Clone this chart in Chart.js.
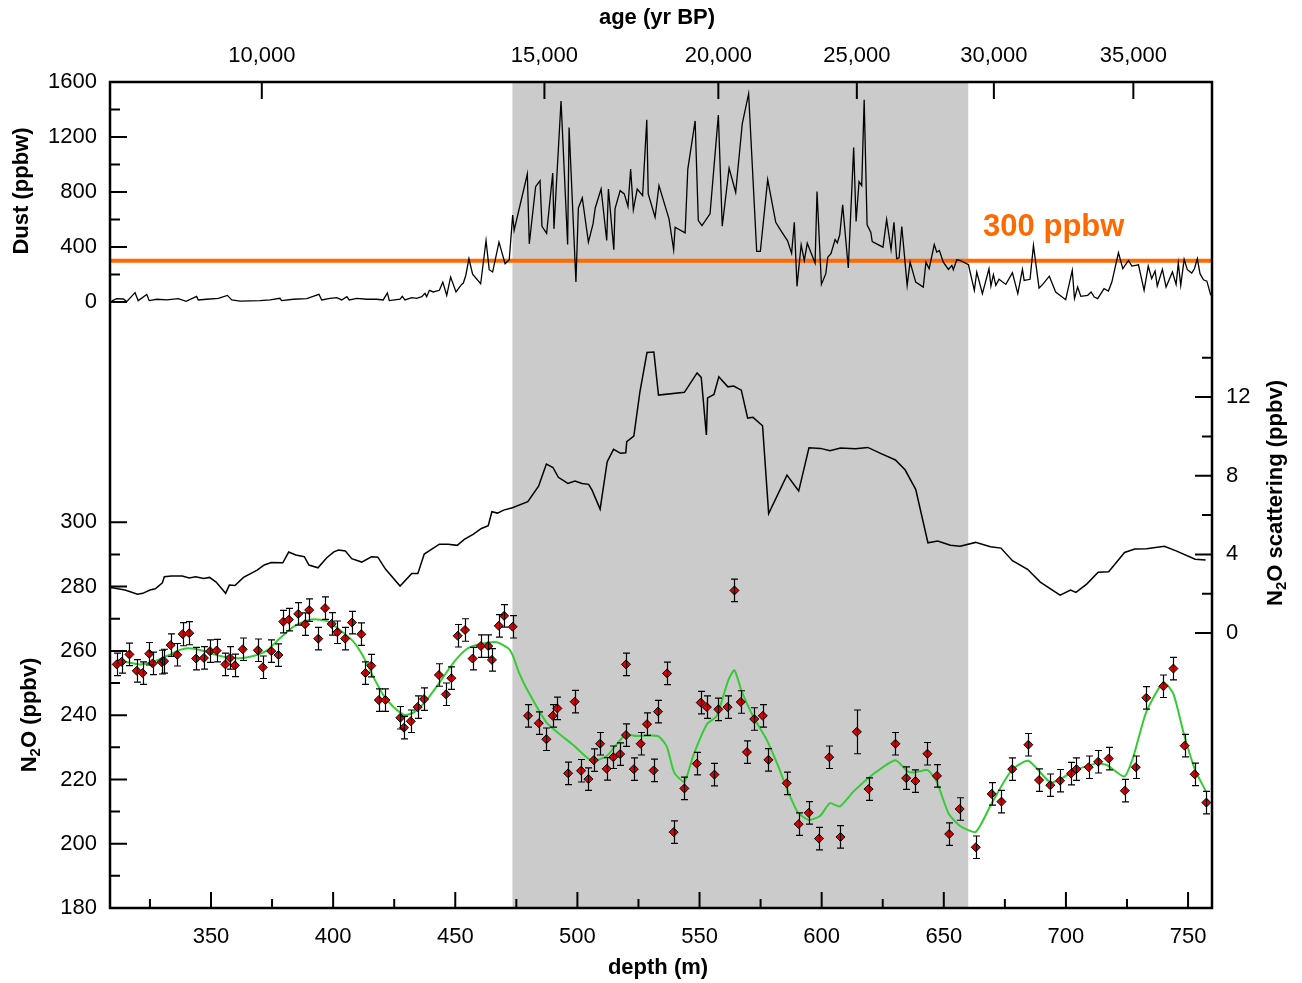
<!DOCTYPE html>
<html>
<head>
<meta charset="utf-8">
<script src="https://cdn.jsdelivr.net/npm/chart.js@4.4.1/dist/chart.umd.min.js"></script>
<style>
  html, body { margin: 0; padding: 0; background: #fff; }
  #wrap { width: 1302px; height: 983px; }
</style>
</head>
<body>
<div id="wrap"><canvas id="chart" width="1302" height="983"></canvas></div>
<script>
// dust record (depth m, ppbw)
const dustDepth = [309.3,311.4,314.1,315.5,318.9,320.2,323.7,324.7,327.8,331.9,336.6,339.8,344.1,344.8,348.2,353.0,356.7,358.5,361.9,370.1,374.2,378.2,378.9,383.7,389.2,394.2,395.3,398.7,401.5,403.5,405.6,406.6,409.7,413.7,417.8,420.5,422.2,423.0,427.4,428.3,429.4,432.2,434.2,436.3,437.6,438.3,439.4,441.0,443.5,444.9,446.5,448.1,450.3,452.6,453.3,454.3,455.6,457.1,460.4,462.6,463.9,465.3,467.9,470.4,472.1,473.5,474.1,479.5,480.3,482.9,484.7,485.5,487.4,489.9,490.4,493.3,496.0,496.6,499.4,500.4,502.0,504.5,506.4,507.3,509.7,512.0,512.7,514.9,515.4,517.5,519.2,520.7,521.8,522.9,524.5,526.7,528.4,529.0,531.8,533.4,537.5,539.4,540.0,544.1,545.2,548.2,549.5,551.0,554.3,557.7,559.3,562.1,564.8,567.5,570.1,573.4,574.9,577.9,581.2,583.7,586.0,587.7,588.8,589.9,591.6,592.9,594.1,597.3,598.1,599.9,601.7,602.5,603.8,605.5,606.4,607.4,608.6,610.9,613.1,614.1,615.3,616.4,617.4,618.6,620.1,620.7,625.1,626.6,628.4,629.6,630.7,631.7,632.8,635.0,636.2,638.5,641.6,642.7,644.0,646.1,647.1,648.2,649.8,651.9,653.3,653.9,655.3,656.7,660.1,662.5,663.5,665.8,668.5,669.3,670.3,671.3,672.6,675.4,678.1,680.3,682.2,682.9,685.3,686.7,689.0,690.5,693.2,695.8,699.9,702.6,703.5,704.8,706.1,708.9,710.3,711.6,713.0,715.6,717.4,718.8,721.5,723.3,725.6,727.0,729.7,732.0,733.7,735.1,736.5,737.4,739.5,741.0,743.6,745.1,746.0,747.0,748.4,749.7,751.5,752.6,753.8,754.9,756.3,757.7,759.3];
const dustVal = [7,25,22,3,68,10,54,10,20,15,25,5,41,15,20,27,48,15,7,10,15,27,10,20,25,56,15,27,32,15,39,15,27,20,20,15,66,10,20,41,15,32,27,39,63,39,85,73,85,145,49,181,73,128,138,193,315,203,133,447,235,218,435,278,307,633,520,931,423,839,882,551,500,938,532,1462,418,1269,145,684,757,435,568,684,822,447,822,380,677,810,786,694,967,670,822,774,1325,786,616,846,605,380,544,503,967,1317,592,556,641,1359,551,974,798,1298,1515,368,368,890,580,508,447,355,580,114,416,302,428,283,803,128,206,326,351,455,430,489,706,247,1124,585,875,846,1470,561,508,440,399,600,382,580,315,322,549,121,290,145,109,290,242,418,363,375,290,237,266,235,307,302,271,85,218,61,242,116,199,121,165,128,213,61,237,157,165,411,101,128,188,73,17,230,25,109,41,49,73,36,25,97,80,145,358,242,302,261,271,85,261,170,225,116,237,109,218,128,283,121,310,235,211,242,315,206,162,152,49];

// N2O scattering (ppbv)
const scatDepth = [308.9,314.8,319.9,322.1,325.0,327.2,330.1,330.9,333.8,338.2,341.1,343.7,347.0,349.4,352.1,356.0,357.5,359.8,363.3,368.9,371.8,374.7,379.4,381.8,384.7,388.2,390.1,393.8,397.4,400.3,402.2,405.0,407.6,411.7,415.7,418.3,421.5,427.4,432.2,434.7,437.3,443.5,447.1,450.8,453.7,457.3,460.7,463.5,465.0,467.3,469.8,473.4,479.7,484.1,487.3,490.0,492.2,496.1,499.0,501.9,504.6,506.0,509.3,512.2,514.8,517.7,519.8,520.2,523.1,525.6,528.5,531.3,533.2,543.8,549.0,550.7,552.8,553.3,555.9,557.9,561.6,564.0,567.1,569.7,571.9,575.8,578.3,585.8,590.6,594.8,599.6,603.4,607.7,613.8,618.9,624.1,630.2,634.2,638.5,643.5,647.5,652.7,656.7,663.0,669.1,673.4,678.1,684.3,689.5,697.6,701.9,704.1,708.5,713.2,717.5,724.0,728.2,733.0,740.3,745.1,752.9,757.2];
const scatVal = [2.32,2.19,1.98,2.02,2.19,2.25,2.56,2.86,2.90,2.90,2.80,2.86,2.78,2.83,2.59,2.02,2.44,2.42,2.83,3.20,3.46,3.59,3.57,4.12,3.97,3.88,3.46,3.32,3.83,4.13,4.22,4.17,3.78,3.61,3.88,3.86,3.24,2.39,3.03,3.03,4.02,4.52,4.51,4.46,4.76,5.02,5.32,5.46,6.17,6.10,6.25,6.37,6.68,7.47,8.59,8.42,7.92,7.61,7.73,7.61,7.56,7.27,6.30,8.71,9.34,9.14,9.17,9.73,10.02,12.27,14.27,14.29,12.10,12.24,13.23,13.0,10.07,11.96,12.13,13.03,12.52,12.56,12.35,10.93,10.97,10.54,6.08,8.03,7.22,9.42,9.39,9.27,9.41,9.37,9.44,9.14,8.80,8.29,7.31,4.59,4.68,4.47,4.42,4.61,4.39,4.32,3.68,3.24,2.59,1.93,2.19,2.07,2.49,3.09,3.12,4.10,4.27,4.29,4.41,4.18,3.75,3.71];

// N2O measurements (ppbv) with 1-sigma errors
const n2oDepth = [311.4,313.4,316.6,319.6,322.0,324.7,326.1,329.8,330.8,333.5,336.2,338.4,341.1,343.9,347.1,349.6,352.3,355.9,357.8,359.8,363.0,369.2,371.2,374.7,377.6,379.6,381.9,385.7,388.5,390.2,393.9,396.7,399.4,401.7,404.9,407.7,411.5,413.2,415.6,418.7,421.4,427.5,429.0,431.8,434.6,437.2,443.3,446.2,448.4,451.0,454.0,457.1,460.5,463.5,465.0,467.8,470.0,473.5,479.8,484.2,487.3,489.9,491.8,496.2,498.9,501.5,504.5,506.7,509.3,512.0,514.7,517.5,519.9,519.9,523.1,525.9,528.5,531.2,533.0,536.7,539.4,543.8,548.9,550.5,553.0,556.1,557.7,561.5,564.3,566.9,569.4,572.4,575.9,578.2,585.7,590.6,594.7,598.9,603.1,607.7,614.4,619.2,630.2,634.6,638.4,643.3,647.2,652.2,656.5,663.1,669.6,673.6,678.0,684.6,689.0,693.6,697.6,702.1,704.3,709.3,713.2,717.5,724.1,728.6,732.9,739.9,744.0,748.6,752.7,757.5];
const n2oVal = [255.8,256.6,258.9,253.8,253.1,259.1,256.1,256.5,256.8,261.8,258.8,265.2,265.5,257.6,257.8,259.9,260.1,255.8,257.8,255.5,260.5,260.2,254.9,259.9,258.7,269.1,269.7,271.5,268.3,272.7,263.8,273.3,268.4,265.8,263.8,268.8,265.2,253.1,255.4,244.7,244.7,239.2,236.1,238.1,242.5,245.0,252.5,246.5,251.5,264.7,266.5,257.6,261.5,261.5,257.2,267.8,270.9,267.5,239.8,237.5,232.5,239.8,242.1,221.9,244.2,222.7,220.1,226.0,231.1,223.3,226.9,227.9,255.8,233.8,223.2,231.1,237.2,222.8,241.1,253.0,203.6,217.2,224.9,243.9,242.5,221.5,241.8,242.5,278.8,244.1,228.5,238.8,239.8,226.1,218.8,206.1,209.6,201.6,226.9,202.1,234.8,217.0,231.1,220.4,219.5,228.0,221.1,203.0,210.8,198.9,215.5,213.1,223.2,230.8,219.8,218.2,219.6,221.8,223.2,223.8,225.5,226.5,216.5,223.8,245.4,249.0,254.5,230.5,221.6,212.8];
const n2oErr = [3.5,3.5,3.5,3.5,3.5,3.5,3.5,3.7,3.7,3.5,3.5,3.6,3.6,3.5,3.5,3.5,3.5,3.5,3.5,3.5,3.5,3.5,3.5,3.5,3.5,3.5,3.5,3.5,3.5,3.5,3.5,3.5,3.5,3.5,3.5,3.5,3.5,3.5,3.5,3.5,3.5,3.5,3.5,3.5,3.5,3.5,3.5,3.5,3.5,3.5,3.5,3.5,3.5,3.5,3.5,3.5,3.5,3.5,3.5,3.5,3.5,3.5,3.5,3.5,3.5,3.5,3.5,3.5,3.5,3.5,3.5,3.5,3.5,3.5,3.5,3.5,3.5,3.5,3.5,3.5,3.5,3.5,3.5,3.5,3.5,3.5,3.5,3.5,3.5,3.5,3.5,3.5,3.5,3.5,3.5,3.5,3.5,3.5,3.5,3.5,6.8,3.5,3.5,3.5,3.5,3.5,3.5,3.5,3.5,3.5,3.5,3.5,3.5,3.5,3.5,3.5,3.5,3.5,3.5,3.5,3.5,3.5,3.5,3.5,3.5,3.5,3.5,3.5,3.5,3.5];

// smoothed N2O (green)
const fitDepth = [312.0,316.1,320.9,326.4,331.9,337.3,340.7,345.5,350.9,356.4,361.9,367.3,372.8,378.2,383.7,389.2,393.3,398.0,402.8,408.3,412.4,416.4,420.5,424.6,429.4,433.5,438.3,443.8,449.2,454.7,460.1,467.0,471.7,473.5,476.2,479.9,487.4,498.3,505.9,512.0,519.5,524.3,532.9,536.6,539.6,543.8,547.5,553.0,557.0,561.8,564.3,567.3,572.0,577.5,582.3,585.7,590.2,594.7,599.3,603.4,607.5,613.0,621.2,630.2,635.1,638.2,643.4,647.1,651.9,656.7,663.1,669.6,677.8,684.6,693.5,697.6,703.7,712.6,716.7,723.9,727.6,732.8,739.9,744.0,748.4,752.9,757.4];
const fitVal = [257.2,256.4,255.8,256.6,258.4,260.3,260.8,260.3,259.0,258.0,257.7,258.4,260.1,263.9,267.5,269.4,269.8,269.1,266.5,262.9,258.2,252.0,246.3,242.6,240.0,241.1,244.7,250.4,256.3,260.6,262.1,262.7,260.8,258.7,253.0,247.3,237.7,230.7,225.8,227.3,233.8,233.5,233.5,230.2,222.2,219.3,227.6,237.2,239.7,250.9,254.0,247.3,239.5,232.3,224.0,217.2,209.8,207.4,208.6,212.6,211.6,216.2,221.7,226.0,222.5,222.2,222.9,219.3,209.5,205.5,203.7,212.6,222.9,225.8,219.1,220.0,222.9,225.0,224.5,220.9,227.1,240.8,250.2,246.6,233.8,222.9,216.2];

// axes
const depthMin = 308.65, depthMax = 759.8;
const depthTicks = [325,350,375,400,425,450,475,500,525,550,575,600,625,650,675,700,725,750];
const ageDepth = [370.8,486.5,557.7,614.4,670.5,727.6];
const ageLabels = ['10,000','15,000','20,000','25,000','30,000','35,000'];
const dustTicks = [0,200,400,600,800,1000,1200,1400,1600];
const n2oTicks = [180,190,200,210,220,230,240,250,260,270,280,290,300];
const scatTicks = [0,2,4,6,8,10,12,14];
const shadeFrom = 473.4, shadeTo = 660.0;
const dustThreshold = 300;

const FONT = "'Liberation Sans', Arial, Helvetica, sans-serif";
const pts = (xs, ys) => xs.map((x, i) => ({ x: x, y: ys[i] }));

function drawRich(ctx, parts, cx, cy, rot) {
  // parts: [text, size, baselineShift]
  ctx.save();
  ctx.translate(cx, cy);
  ctx.rotate(rot);
  let total = 0;
  parts.forEach(p => { ctx.font = 'bold ' + p[1] + 'px ' + FONT; total += ctx.measureText(p[0]).width; });
  let x = -total / 2;
  ctx.textAlign = 'left';
  ctx.textBaseline = 'middle';
  ctx.fillStyle = '#000';
  parts.forEach(p => {
    ctx.font = 'bold ' + p[1] + 'px ' + FONT;
    ctx.fillText(p[0], x, p[2]);
    x += ctx.measureText(p[0]).width;
  });
  ctx.restore();
}

const decor = {
  id: 'decor',
  beforeDatasetsDraw(chart) {
    const { ctx, chartArea: a, scales } = chart;
    const x0 = scales.x.getPixelForValue(shadeFrom);
    const x1 = scales.x.getPixelForValue(shadeTo);
    ctx.save();
    ctx.fillStyle = '#cbcbcb';
    ctx.fillRect(x0, a.top, x1 - x0, a.bottom - a.top);
    ctx.restore();
  },
  afterDatasetsDraw(chart) {
    const { ctx, chartArea: a, scales } = chart;
    const xs = scales.x, yn = scales.yN2O;
    ctx.save();

    // error bars
    ctx.strokeStyle = '#000';
    ctx.lineWidth = 1.2;
    n2oDepth.forEach((d, i) => {
      const px = Math.round(xs.getPixelForValue(d)) + 0.5;
      const yt = yn.getPixelForValue(n2oVal[i] + n2oErr[i]);
      const yb = yn.getPixelForValue(n2oVal[i] - n2oErr[i]);
      ctx.beginPath();
      ctx.moveTo(px, yt); ctx.lineTo(px, yb);
      ctx.moveTo(px - 3.5, yt); ctx.lineTo(px + 3.5, yt);
      ctx.moveTo(px - 3.5, yb); ctx.lineTo(px + 3.5, yb);
      ctx.stroke();
    });

    // threshold label
    ctx.fillStyle = '#ff6a00';
    ctx.font = 'bold 31px ' + FONT;
    ctx.textAlign = 'left';
    ctx.textBaseline = 'alphabetic';
    ctx.fillText('300 ppbw', xs.getPixelForValue(666.1), scales.yDust.getPixelForValue(dustThreshold) - 25);

    // frame
    ctx.strokeStyle = '#000';
    ctx.lineWidth = 2.5;
    ctx.strokeRect(a.left, a.top, a.right - a.left, a.bottom - a.top);

    // inward ticks
    ctx.lineWidth = 2;
    ctx.beginPath();
    xs.ticks.forEach(t => {
      const p = xs.getPixelForValue(t.value), len = t.value % 50 === 0 ? 16 : 9;
      ctx.moveTo(p, a.bottom); ctx.lineTo(p, a.bottom - len);
    });
    scales.xTop.ticks.forEach(t => {
      const p = xs.getPixelForValue(t.value);
      ctx.moveTo(p, a.top); ctx.lineTo(p, a.top + 17);
    });
    dustTicks.forEach(v => {
      const p = scales.yDust.getPixelForValue(v), len = v % 400 === 0 ? 17 : 10;
      ctx.moveTo(a.left, p); ctx.lineTo(a.left + len, p);
    });
    n2oTicks.forEach(v => {
      const p = yn.getPixelForValue(v), len = v % 20 === 0 ? 17 : 10;
      ctx.moveTo(a.left, p); ctx.lineTo(a.left + len, p);
    });
    scatTicks.forEach(v => {
      const p = scales.yScat.getPixelForValue(v), len = v % 4 === 0 ? 17 : 10;
      ctx.moveTo(a.right, p); ctx.lineTo(a.right - len, p);
    });
    ctx.stroke();

    // N2O tick labels (this axis shares the left edge with the dust axis)
    ctx.fillStyle = '#000';
    ctx.font = '22px ' + FONT;
    ctx.textAlign = 'right';
    ctx.textBaseline = 'middle';
    n2oTicks.filter(v => v % 20 === 0).forEach(v => {
      ctx.fillText(String(v), a.left - 13, yn.getPixelForValue(v));
    });
    ctx.restore();
  },
  afterDraw(chart) {
    const ctx = chart.ctx;
    drawRich(ctx, [['age (yr BP)', 22, 0]], 657, 18, 0);
    drawRich(ctx, [['depth (m)', 22, 0]], 658, 968, 0);
    drawRich(ctx, [['Dust (ppbw)', 22, 0]], 22, 191, -Math.PI / 2);
    drawRich(ctx, [['N', 22, 0], ['2', 15, 6], ['O (ppbv)', 22, 0]], 30, 715, -Math.PI / 2);
    drawRich(ctx, [['N', 22, 0], ['2', 15, 6], ['O scattering (ppbv)', 22, 0]], 1276, 493, -Math.PI / 2);
  }
};

const tickFont = { family: FONT, size: 22 };
const fixedTicks = list => s => { s.ticks = list.map(v => ({ value: v })); };

new Chart(document.getElementById('chart').getContext('2d'), {
  type: 'scatter',
  data: {
    datasets: [
      {
        label: 'N2O',
        data: pts(n2oDepth, n2oVal),
        xAxisID: 'x', yAxisID: 'yN2O',
        showLine: false,
        pointStyle: 'rectRot',
        pointRadius: 4.5,
        backgroundColor: '#e00000',
        borderColor: '#000',
        borderWidth: 1,
      },
      {
        label: 'N2O smooth',
        data: pts(fitDepth, fitVal),
        xAxisID: 'x', yAxisID: 'yN2O',
        showLine: true,
        pointRadius: 0,
        borderColor: '#33cc33',
        borderWidth: 2,
        tension: 0.2,
      },
      {
        label: 'N2O scattering',
        data: pts(scatDepth, scatVal),
        xAxisID: 'x', yAxisID: 'yScat',
        showLine: true,
        pointRadius: 0,
        borderColor: '#000',
        borderWidth: 1.5,
      },
      {
        label: 'Dust',
        data: pts(dustDepth, dustVal),
        xAxisID: 'x', yAxisID: 'yDust',
        showLine: true,
        pointRadius: 0,
        borderColor: '#000',
        borderWidth: 1.3,
      },
      {
        label: '300 ppbw',
        data: [{ x: depthMin, y: dustThreshold }, { x: depthMax, y: dustThreshold }],
        xAxisID: 'x', yAxisID: 'yDust',
        showLine: true,
        pointRadius: 0,
        borderColor: '#ff6a00',
        borderWidth: 4,
      },
    ],
  },
  options: {
    responsive: false,
    animation: false,
    devicePixelRatio: 1,
    layout: { padding: 0 },
    plugins: { legend: { display: false }, tooltip: { enabled: false } },
    scales: {
      x: {
        type: 'linear', position: 'bottom',
        min: depthMin, max: depthMax,
        grid: { display: false, drawTicks: false },
        border: { display: false },
        afterBuildTicks: fixedTicks(depthTicks),
        afterFit: s => { s.height = 75; },
        ticks: {
          autoSkip: false, maxRotation: 0, minRotation: 0, padding: 16,
          color: '#000', font: tickFont,
          callback: v => (v % 50 === 0 ? String(v) : ''),
        },
      },
      xTop: {
        type: 'linear', position: 'top', axis: 'x',
        min: depthMin, max: depthMax,
        grid: { display: false, drawTicks: false },
        border: { display: false },
        afterBuildTicks: fixedTicks(ageDepth),
        afterFit: s => { s.height = 82; },
        ticks: {
          autoSkip: false, maxRotation: 0, minRotation: 0, padding: 13,
          color: '#000', font: tickFont,
          callback: (v, i) => ageLabels[i],
        },
      },
      yDust: {
        type: 'linear', position: 'left', weight: 2,
        min: -4407, max: 1600,
        grid: { display: false, drawTicks: false },
        border: { display: false },
        afterBuildTicks: fixedTicks(dustTicks),
        afterFit: s => { s.width = 110; },
        ticks: {
          autoSkip: false, padding: 13, color: '#000', font: tickFont,
          callback: v => (v % 400 === 0 ? String(v) : ''),
        },
      },
      yN2O: {
        type: 'linear', position: 'left', weight: 1,
        min: 180, max: 437.0,
        grid: { display: false, drawTicks: false },
        border: { display: false },
        afterBuildTicks: fixedTicks(n2oTicks),
        afterFit: s => { s.width = 0; },
        ticks: { display: false },
      },
      yScat: {
        type: 'linear', position: 'right',
        min: -13.98, max: 28.02,
        grid: { display: false, drawTicks: false },
        border: { display: false },
        afterBuildTicks: fixedTicks(scatTicks),
        afterFit: s => { s.width = 90; },
        ticks: {
          autoSkip: false, padding: 14, color: '#000', font: tickFont,
          callback: v => (v % 4 === 0 ? String(v) : ''),
        },
      },
    },
  },
  plugins: [decor],
});
</script>
</body>
</html>
